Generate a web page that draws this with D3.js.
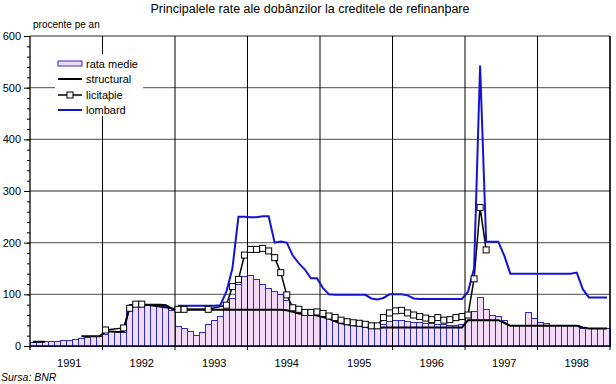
<!DOCTYPE html>
<html>
<head>
<meta charset="utf-8">
<script src="https://cdn.jsdelivr.net/npm/d3@7"></script>
<style>
body { margin: 0; background: #fff; }
svg { display: block; font-family: Arial, "Liberation Sans", sans-serif; }
</style>
</head>
<body>
<svg width="616" height="384"></svg>
<script>
// years on the x axis (monthly data, Jan 1991 .. Dec 1998)
var years = [1991, 1992, 1993, 1994, 1995, 1996, 1997, 1998];
var yTicks = [0, 100, 200, 300, 400, 500, 600];

// rata medie (bars), one value per month
var rataMedie = [
  7, 7, 8, 9, 9, 10, 11, 13, 15, 17, 18, 19,
  23, 28, 28, 26, 73, 78, 79, 79, 79, 78, 76, 69,
  37, 33, 28, 21, 26, 42, 50, 57, 70, 92, 120, 135,
  136, 129, 119, 112, 105, 99, 89, 79, 70, 63, 60, 60,
  57, 53, 50, 44, 41, 39, 37, 37, 35, 35, 41, 47,
  50, 50, 48, 46, 45, 44, 43, 42, 41, 40, 40, 42,
  55, 66, 93, 70, 60, 58, 50, 40, 40, 40, 65, 53,
  46, 44, 39, 39, 39, 39, 39, 34, 34, 34, 34, 34
];

var structural = [
  8, 8, 8, null, null, null, null, null, 19, 19, 19, 19,
  28, 28, 27, 28, 79, 80, 80, 80, 80, 80, 79, 72,
  70, 70, 70, 70, 70, 70, 70, 70, 70, 70, 70, 70,
  70, 70, 70, 70, 70, 70, 69, 66, 63, 62, 61, 59,
  56, 53, 48, 44, 42, 40, 39, 37, 35, 35, 36, 36,
  36, 36, 36, 36, 36, 36, 36, 36, 36, 36, 36, 36,
  50, 50, 50, 50, 50, 50, 45, 39, 39, 39, 39, 39,
  39, 39, 39, 39, 39, 39, 39, 36, 34, 34, 34, 34
];

var licitatie = [
  null, null, null, null, null, null, null, null, null, null, null, null,
  31, null, null, 35, 73, 81, 81, null, null, null, null, null,
  71, 71, null, null, null, 71, null, null, 79, 115, 129, 176,
  187, 187, 189, 184, 171, 142, 99, 74, 71, 65, 65, 66,
  63, 58, 55, 50, 47, 45, 44, 42, 39, 39, 55, 64,
  68, 69, 64, 60, 57, 54, 51, 55, 50, 51, 55, 57,
  60, 130, 268, 186, null, null, null, null, null, null, null, null,
  null, null, null, null, null, null, null, null, null, null, null, null
];

var lombard = [
  null, null, null, null, null, null, null, null, null, null, null, null,
  null, null, null, null, null, null, null, null, null, null, null, null,
  78, 78, 78, 78, 78, 78, 78, 79, 105, 150, 250, 250,
  249, 249, 251, 251, 200, 202, 200, 175, 160, 148, 131, 131,
  112, 100, 99, 99, 99, 99, 99, 99, 92, 90, 93, 100,
  100, 100, 98, 92, 91, 91, 91, 91, 91, 91, 91, 91,
  105, 150, 543, 202, 202, 202, 175, 140, 140, 140, 140, 140,
  140, 140, 140, 140, 140, 140, 142, 110, 94, 94, 94, 94
];

var svg = d3.select("svg");
var plotLeft = 30, plotRight = 610, plotTop = 36, plotBottom = 346;

var x = d3.scaleLinear().domain([0, rataMedie.length]).range([plotLeft, plotRight]);
var y = d3.scaleLinear().domain([0, 600]).range([plotBottom, plotTop]);

var pink = "#f3dbf6", barBlue = "#2c2cc8", lineBlue = "#1414d2";

// title and unit label
svg.append("text")
  .attr("x", 310).attr("y", 13)
  .attr("text-anchor", "middle")
  .style("font-size", "12.5px")
  .text("Principalele rate ale dobânzilor la creditele de refinanþare");

svg.append("text")
  .attr("x", 33).attr("y", 28)
  .style("font-size", "10px")
  .text("procente pe an");

// horizontal grid (gray), behind the bars
svg.append("g").selectAll("line")
  .data(yTicks.filter(function (d) { return d > 0; }))
  .enter().append("line")
  .attr("x1", plotLeft).attr("x2", plotRight)
  .attr("y1", function (d) { return y(d); })
  .attr("y2", function (d) { return y(d); })
  .attr("stroke", "#6f6f6f")
  .attr("stroke-width", 1.3);

// bars
svg.append("g").selectAll("rect")
  .data(rataMedie)
  .enter().append("rect")
  .attr("x", function (d, i) { return x(i); })
  .attr("y", function (d) { return y(d); })
  .attr("width", function (d, i) { return x(i + 1) - x(i); })
  .attr("height", function (d) { return y(0) - y(d); })
  .attr("fill", pink)
  .attr("stroke", barBlue)
  .attr("stroke-width", 1)
  .attr("shape-rendering", "crispEdges");

// vertical grid at year boundaries, drawn over the bars
svg.append("g").selectAll("line")
  .data(years)
  .enter().append("line")
  .attr("x1", function (d, i) { return x((i + 1) * 12); })
  .attr("x2", function (d, i) { return x((i + 1) * 12); })
  .attr("y1", plotTop).attr("y2", plotBottom + 4)
  .attr("stroke", "#000")
  .attr("stroke-width", 1);

// year labels
svg.append("g").selectAll("text")
  .data(years)
  .enter().append("text")
  .attr("x", function (d, i) { return x(i * 12 + 6.5); })
  .attr("y", 367)
  .attr("text-anchor", "middle")
  .style("font-size", "11px")
  .text(function (d) { return d; });

// y axis: major + minor ticks
var yAxis = svg.append("g")
  .attr("transform", "translate(" + plotLeft + ",0)")
  .call(d3.axisLeft(y).tickValues(yTicks).tickSize(6).tickPadding(3));
yAxis.select(".domain").remove();
yAxis.selectAll("text").style("font-size", "11px").attr("fill", "#000");

var minor = svg.append("g")
  .attr("transform", "translate(" + plotLeft + ",0)")
  .call(d3.axisLeft(y).tickValues(d3.range(0, 601, 20)).tickSize(3).tickFormat(""));
minor.select(".domain").remove();

// frame: left axis, bottom axis
svg.append("line").attr("x1", plotLeft).attr("x2", plotLeft).attr("y1", plotTop).attr("y2", plotBottom + 4)
  .attr("stroke", "#000").attr("stroke-width", 1.3);
svg.append("line").attr("x1", plotLeft).attr("x2", plotRight).attr("y1", plotBottom).attr("y2", plotBottom)
  .attr("stroke", "#000").attr("stroke-width", 1.3);

// lines
function pts(arr) {
  return arr.map(function (v, i) { return { i: i, v: v }; });
}
var line = d3.line()
  .defined(function (d) { return d.v != null; })
  .x(function (d) { return x(d.i + 0.5); })
  .y(function (d) { return y(d.v); });

svg.append("path")
  .datum(pts(structural))
  .attr("fill", "none")
  .attr("stroke", "#000")
  .attr("stroke-width", 2)
  .attr("d", line);

var licPts = pts(licitatie).filter(function (d) { return d.v != null; });
svg.append("path")
  .datum(licPts)
  .attr("fill", "none")
  .attr("stroke", "#000")
  .attr("stroke-width", 1.5)
  .attr("d", line);

svg.append("path")
  .datum(pts(lombard))
  .attr("fill", "none")
  .attr("stroke", lineBlue)
  .attr("stroke-width", 2)
  .attr("d", line);

svg.append("g").selectAll("rect")
  .data(licPts)
  .enter().append("rect")
  .attr("x", function (d) { return x(d.i + 0.5) - 3; })
  .attr("y", function (d) { return y(d.v) - 3; })
  .attr("width", 6).attr("height", 6)
  .attr("fill", "#fff")
  .attr("stroke", "#000")
  .attr("stroke-width", 1);

// right border
svg.append("line").attr("x1", plotRight).attr("x2", plotRight).attr("y1", plotTop).attr("y2", plotBottom)
  .attr("stroke", "#000").attr("stroke-width", 1.3);

// legend
var legend = svg.append("g");
legend.append("rect")
  .attr("x", 55).attr("y", 54).attr("width", 88).attr("height", 62)
  .attr("fill", "#fff");

var items = ["rata medie", "structural", "licitaþie", "lombard"];
var rowY = [64, 79, 95, 110];
items.forEach(function (name, k) {
  var yy = rowY[k];
  if (k === 0) {
    legend.append("rect")
      .attr("x", 58).attr("y", yy - 3).attr("width", 24).attr("height", 5)
      .attr("fill", pink).attr("stroke", barBlue).attr("stroke-width", 1);
  } else {
    legend.append("line")
      .attr("x1", 58).attr("x2", 82).attr("y1", yy).attr("y2", yy)
      .attr("stroke", k === 3 ? lineBlue : "#000")
      .attr("stroke-width", k === 2 ? 1.5 : 2);
    if (k === 2) {
      legend.append("rect")
        .attr("x", 67).attr("y", yy - 3).attr("width", 6).attr("height", 6)
        .attr("fill", "#fff").attr("stroke", "#000");
    }
  }
  legend.append("text")
    .attr("x", 86).attr("y", yy + 4)
    .style("font-size", "11px")
    .text(name);
});

// source
svg.append("text")
  .attr("x", 1).attr("y", 381)
  .style("font-size", "10.5px")
  .style("font-style", "italic")
  .text("Sursa: BNR");
</script>
</body>
</html>
